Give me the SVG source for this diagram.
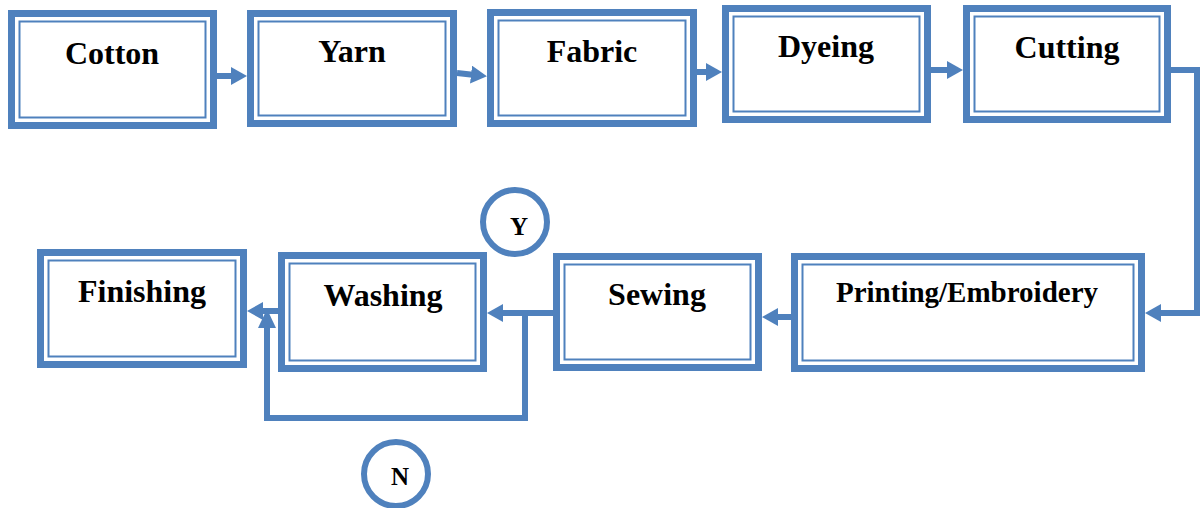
<svg xmlns="http://www.w3.org/2000/svg" width="1200" height="508" viewBox="0 0 1200 508">
  <style>
    .outer { fill: #ffffff; stroke: #4F81BD; stroke-width: 7; }
    .inner { fill: none; stroke: #4F81BD; stroke-width: 2; }
    .label { font-family: "Liberation Serif", "Times New Roman", serif; font-weight: bold; font-size: 32px; fill: #000000; text-anchor: middle; }
    .small { font-size: 29px; }
    .mark { font-size: 25px; }
    .wire { fill: none; stroke: #4F81BD; stroke-width: 6; }
    .ring { fill: #ffffff; stroke: #4F81BD; stroke-width: 6; }
  </style>
  <defs>
    <marker id="head" markerUnits="userSpaceOnUse" markerWidth="16" markerHeight="18" refX="4" refY="9" orient="auto">
      <path d="M0,0 L16,9 L0,18 Z" fill="#4F81BD"/>
    </marker>
    <marker id="headLong" markerUnits="userSpaceOnUse" markerWidth="19" markerHeight="18" refX="4" refY="9" orient="auto">
      <path d="M0,0 L19,9 L0,18 Z" fill="#4F81BD"/>
    </marker>
  </defs>

  <rect width="1200" height="508" fill="#ffffff"/>

  <!-- connectors -->
  <g id="connectors">
    <path class="wire" d="M217,76 L235,76" marker-end="url(#head)"/>
    <path class="wire" d="M457,73 L475,75" marker-end="url(#head)"/>
    <path class="wire" d="M697,72 L710,72" marker-end="url(#head)"/>
    <path class="wire" d="M931,70 L951,70" marker-end="url(#head)"/>
    <path class="wire" d="M1171,70 L1197,70 L1197,313 L1157,313" marker-end="url(#head)"/>
    <path class="wire" d="M791,317 L774,317" marker-end="url(#head)"/>
    <path class="wire" d="M553,313 L499,313" marker-end="url(#head)"/>
    <path class="wire" d="M278,311 L259,311" marker-end="url(#head)"/>
    <path class="wire" d="M525,313 L525,418 L267,418 L267,324" marker-end="url(#headLong)"/>
  </g>

  <!-- process steps -->
  <g id="cotton">
    <rect class="outer" x="11.5" y="13.5" width="202" height="112"/>
    <rect class="inner" x="19.5" y="21.5" width="186" height="96"/>
    <text class="label" x="112" y="64">Cotton</text>
  </g>
  <g id="yarn">
    <rect class="outer" x="250.5" y="13.5" width="203" height="110"/>
    <rect class="inner" x="258.5" y="21.5" width="187" height="94"/>
    <text class="label" x="352" y="62">Yarn</text>
  </g>
  <g id="fabric">
    <rect class="outer" x="490.5" y="12.5" width="203" height="111"/>
    <rect class="inner" x="498.5" y="20.5" width="187" height="95"/>
    <text class="label" x="592" y="62">Fabric</text>
  </g>
  <g id="dyeing">
    <rect class="outer" x="725.5" y="8.5" width="202" height="111"/>
    <rect class="inner" x="733.5" y="16.5" width="186" height="95"/>
    <text class="label" x="826" y="57">Dyeing</text>
  </g>
  <g id="cutting">
    <rect class="outer" x="966.5" y="8.5" width="201" height="111"/>
    <rect class="inner" x="974.5" y="16.5" width="185" height="95"/>
    <text class="label" x="1067" y="58">Cutting</text>
  </g>
  <g id="printing">
    <rect class="outer" x="794.5" y="256.5" width="347" height="112"/>
    <rect class="inner" x="802.5" y="264.5" width="331" height="96"/>
    <text class="label small" x="967" y="302">Printing/Embroidery</text>
  </g>
  <g id="sewing">
    <rect class="outer" x="556.5" y="256.5" width="202" height="111"/>
    <rect class="inner" x="564.5" y="264.5" width="186" height="95"/>
    <text class="label" x="657" y="305">Sewing</text>
  </g>
  <g id="washing">
    <rect class="outer" x="281.5" y="255.5" width="202" height="113"/>
    <rect class="inner" x="289.5" y="263.5" width="186" height="97"/>
    <text class="label" x="383" y="306">Washing</text>
  </g>
  <g id="finishing">
    <rect class="outer" x="40.5" y="252.5" width="203" height="112"/>
    <rect class="inner" x="48.5" y="260.5" width="187" height="96"/>
    <text class="label" x="142" y="302">Finishing</text>
  </g>

  <!-- decision markers -->
  <g id="yes">
    <circle class="ring" cx="515" cy="222" r="32"/>
    <text class="label mark" x="519" y="235">Y</text>
  </g>
  <g id="no">
    <circle class="ring" cx="396" cy="474" r="32" stroke-width="5.5"/>
    <text class="label mark" x="400" y="485">N</text>
  </g>
</svg>
